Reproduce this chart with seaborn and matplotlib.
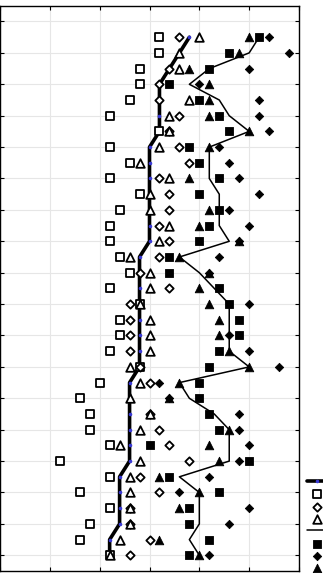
import numpy as np
import matplotlib
matplotlib.use("Agg")
import matplotlib.pyplot as plt
import seaborn as sns

nan = np.nan

# profile levels, listed from the top row down to the bottom row
level = [33, 32, 31, 30, 29, 28, 27, 26, 25, 24, 23, 22, 21, 20, 19, 18, 17,
         16, 15, 14, 13, 12, 11, 10, 9, 8, 7, 6, 5, 4, 3, 2, 1, 0]

thick_line = [3.8, 3.6, 3.4, 3.2, 3.2, 3.2, 3.2, 3.0, 3.0, 3.0, 3.0, 3.0, 3.0, 3.0, 2.8, 2.8, 2.8,
              2.8, 2.8, 2.8, 2.8, 2.8, 2.6, 2.6, 2.6, 2.6, 2.6, 2.6, 2.4, 2.4, 2.4, 2.4, 2.2, 2.2]
open_square = [3.2, 3.2, 2.8, 2.8, 2.6, 2.2, 3.2, 2.2, 2.6, 2.2, 2.8, 2.4, 2.2, 2.2, 2.4, 2.6, 2.2,
               2.8, 2.4, 2.4, 2.2, 2.8, 2.0, 1.6, 1.8, 1.8, 2.2, 1.2, 2.2, 1.6, 2.2, 1.8, 1.6, 2.2]
open_diamond = [3.6, nan, 3.4, 3.2, 3.2, 3.6, 3.4, 3.6, 3.8, 3.2, 3.4, 3.4, 3.2, 3.4, 3.2, 2.8, 3.4,
                2.6, 2.6, 2.6, 2.6, 2.8, 3.0, nan, 3.0, 3.2, 3.4, 3.8, 2.8, 3.2, 2.6, 2.6, 3.0, 2.6]
open_triangle = [4.0, 3.6, 3.6, nan, 3.8, 3.4, 3.4, 3.2, 2.8, 3.4, 3.0, 3.0, 3.4, 3.2, 2.6, 3.0, 3.0,
                 2.8, 3.0, 3.0, 3.0, 2.6, 2.8, 2.6, 3.0, 2.8, 2.4, 2.8, 2.6, 2.6, 2.6, 2.6, 2.4, 2.2]
thin_line = [5.2, 5.0, 4.2, 3.8, 4.4, 4.6, 5.0, 4.2, 4.2, 4.2, 4.4, 4.4, 4.4, 4.6, 3.6, 4.0, 4.3,
             4.6, 4.6, 4.6, 4.6, 5.0, 3.6, 3.8, 4.3, 4.6, 4.6, 4.6, 3.6, 4.0, 4.0, 4.0, 3.8, 4.0]
filled_square = [5.2, 4.6, 4.2, 3.4, 4.0, 4.4, 4.6, 3.8, 4.0, 4.4, 4.0, 4.4, 4.2, 4.0, 3.4, 3.4, 4.4,
                 4.6, 4.8, 4.8, 4.4, 4.2, 4.0, 4.0, 4.2, 4.4, 3.0, 5.0, 3.4, 4.4, 3.8, 3.8, 4.2, 3.8]
filled_diamond = [5.4, 5.8, 5.0, 4.0, 5.2, 5.2, 5.4, 4.4, 4.6, 4.8, 5.2, 4.6, 5.0, 4.8, 4.4, 4.2, nan,
                  5.0, nan, 4.6, 5.0, 5.6, 3.2, 3.4, 4.8, 4.8, 5.0, 4.8, 4.2, 3.6, 5.0, 4.6, nan, 4.2]
filled_triangle = [5.0, 4.8, 3.8, 4.2, 4.2, 4.2, 5.0, 4.2, nan, 3.8, nan, 4.2, 4.0, 4.8, 3.6, 4.2, 4.0,
                   4.2, 4.4, 4.4, 4.6, 5.0, 3.6, 3.4, nan, 4.6, 4.2, 4.4, 3.2, 4.0, 3.6, nan, 3.2, 4.0]

sns.set_style("whitegrid", {"grid.color": "#e6e6e6", "axes.edgecolor": "black"})

fig = plt.figure(figsize=(3.23, 5.73), dpi=100)
ax = fig.add_axes([0, 2 / 573, 299 / 323, 565.2 / 573])

sns.lineplot(x=thick_line, y=level, sort=False, estimator=None, orient="y", ax=ax,
             color="black", lw=2.6, marker="o", ms=1.8, mfc="#3a3ad8", mec="#3a3ad8",
             label="Reference")

open_kw = dict(facecolor="white", edgecolor="black", linewidth=1.3, ax=ax, zorder=3)
sns.scatterplot(x=open_square, y=level, marker="s", s=40, label="Set 1", **open_kw)
sns.scatterplot(x=open_diamond, y=level, marker="D", s=18, label="Set 2", **open_kw)
sns.scatterplot(x=open_triangle, y=level, marker="^", s=38, label="Set 3", **open_kw)

sns.lineplot(x=thin_line, y=level, sort=False, estimator=None, orient="y", ax=ax,
             color="black", lw=1.1, label="Fit", zorder=4)

fill_kw = dict(color="black", edgecolor="black", linewidth=0.6, ax=ax, zorder=5)
sns.scatterplot(x=filled_square, y=level, marker="s", s=40, label="Set 4", **fill_kw)
sns.scatterplot(x=filled_diamond, y=level, marker="D", s=18, label="Set 5", **fill_kw)
sns.scatterplot(x=filled_triangle, y=level, marker="^", s=38, label="Set 6", **fill_kw)

ax.set_xlim(0, 6)
ax.set_ylim(-1, 35)
ax.set_xticks([0, 1, 2, 3, 4, 5, 6])
ax.set_yticks([0, 2, 4, 6, 8, 10, 12, 14, 16, 18, 20, 22, 24, 26, 28, 30, 32, 34])
ax.grid(True, lw=0.8)
ax.tick_params(direction="in", length=3, width=0.8, color="black",
               top=True, right=True, left=True, bottom=True,
               labelleft=False, labelbottom=False)
ax.set_xlabel("")
ax.set_ylabel("")
for sp in ax.spines.values():
    sp.set_linewidth(1.0)
    sp.set_color("black")

# legend sits right of the axes; its names run past the figure edge as in the source
ax.legend(loc="upper left", bbox_to_anchor=(307 / 323, 1 - 476.5 / 573),
          bbox_transform=fig.transFigure, frameon=False, fontsize=7,
          handlelength=2.0, handletextpad=0.4, borderpad=0, borderaxespad=0,
          labelspacing=0.24)

fig.savefig("out.png", dpi=100)
